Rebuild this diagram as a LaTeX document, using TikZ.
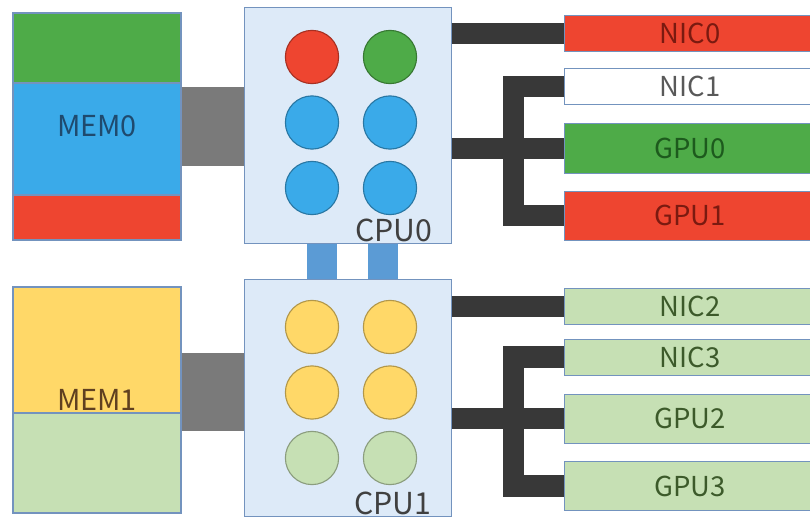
\documentclass[tikz,border=0pt]{standalone}
\usepackage{fontspec}
\setmainfont{Noto Sans CJK JP}
\usepackage{xcolor}
\usepackage{tikz}
\usetikzlibrary{positioning,calc}

\definecolor{cpured}{HTML}{EE4530}
\definecolor{cpugreen}{HTML}{4EAB48}
\definecolor{cpublue}{HTML}{3AAAE9}
\definecolor{cpuyellow}{HTML}{FFD868}
\definecolor{palegreen}{HTML}{C6E0B4}
\definecolor{cpufill}{HTML}{DDEAF8}
\definecolor{edge}{HTML}{7393BE}
\definecolor{ddrgray}{HTML}{7A7A7A}
\definecolor{busdark}{HTML}{383838}
\definecolor{upiblue}{HTML}{5B9BD5}
\definecolor{redtxt}{HTML}{7A1A10}
\definecolor{greentxt}{HTML}{1D5A1D}
\definecolor{leaftxt}{HTML}{3C5A2A}
\definecolor{memtxt}{HTML}{1F4A6E}

\begin{document}
\begin{tikzpicture}[x=0.025cm,y=-0.025cm,
  cpu/.style={draw=edge,line width=0.7pt,fill=cpufill,minimum width=5.15cm,minimum height=5.9cm,inner sep=0pt},
  core/.style={circle,draw=#1!70!black,line width=0.8pt,fill=#1,minimum size=1.33cm,inner sep=0pt},
  cpulabel/.style={text=black!75,inner sep=0pt,font=\fontsize{21.5}{22}\selectfont},
  mem/.style={draw=edge,line width=0.8pt,minimum width=4.2cm,inner sep=0pt,font=\fontsize{20.5}{21}\selectfont},
  dev/.style 2 args={draw=edge,line width=0.7pt,fill=#1,text=#2,minimum width=6.25cm,inner sep=0pt,
    font=\fontsize{19.5}{20}\selectfont},
  nic/.style={minimum height=0.9cm},
  gpu/.style={minimum height=1.225cm},
  ddr/.style={draw=ddrgray,line width=1.95cm},
  upi/.style={draw=upiblue,line width=0.75cm},
  pcie/.style={draw=busdark,line width=0.525cm}]
  \useasboundingbox (0,0) rectangle (810,518);

  % memory banks
  \filldraw[draw=edge,line width=0.8pt,fill=cpugreen] (13,13) rectangle (181,83);
  \filldraw[draw=edge,line width=0.8pt,fill=cpublue] (13,83) rectangle (181,195);
  \filldraw[draw=edge,line width=0.8pt,fill=cpured] (13,195) rectangle (181,240);
  \filldraw[draw=edge,line width=0.8pt,fill=cpuyellow] (13,287) rectangle (181,413);
  \filldraw[draw=edge,line width=0.8pt,fill=palegreen] (13,413) rectangle (181,513);
  \node[mem,minimum height=5.675cm,text=memtxt] (mem0) at (97,126.5) {MEM0};
  \node[mem,minimum height=5.65cm,text=brown!50!black] (mem1) at (97,400) {MEM1};

  % sockets
  \node[cpu] (cpu0) at (348,125.5) {};
  \node[cpu] (cpu1) at (348,398) {};
  \foreach \c [count=\k from 0] in {cpured,cpugreen,cpublue,cpublue,cpublue,cpublue}
    \node[core=\c] (core0\k) at ({312+78*mod(\k,2)},{57+65.5*int(\k/2)}) {};
  \foreach \c [count=\k from 0] in {cpuyellow,cpuyellow,cpuyellow,cpuyellow,palegreen,palegreen}
    \node[core=\c] (core1\k) at ({312+78*mod(\k,2)},{327+65.5*int(\k/2)}) {};
  \node[cpulabel,anchor=base] (cpu0lbl) at (394,242) {CPU0};
  \node[cpulabel,anchor=base] (cpu1lbl) at (393,514) {CPU1};

  % devices
  \node[dev={cpured}{redtxt},nic] (nic0) at (690,33.5) {NIC0};
  \node[dev={white}{black!65},nic] (nic1) at (690,86.5) {NIC1};
  \node[dev={cpugreen}{greentxt},gpu] (gpu0) at (690,148.5) {GPU0};
  \node[dev={cpured}{redtxt},gpu] (gpu1) at (690,215.5) {GPU1};
  \node[dev={palegreen}{leaftxt},nic] (nic2) at (690,306.5) {NIC2};
  \node[dev={palegreen}{leaftxt},nic] (nic3) at (690,357) {NIC3};
  \node[dev={palegreen}{leaftxt},gpu] (gpu2) at (690,418.5) {GPU2};
  \node[dev={palegreen}{leaftxt},gpu] (gpu3) at (690,486) {GPU3};

  % links
  \draw[ddr] (mem0.east) -- (mem0.east -| cpu0.west);
  \draw[ddr] ([yshift=0.2cm]mem1.east) -- ([yshift=0.2cm]mem1.east -| cpu1.west);
  \foreach \dx in {-0.65cm,0.8625cm}
    \draw[upi] ([xshift=\dx]cpu0.south) -- ([xshift=\dx]cpu1.north);
  \foreach \s/\n/\g in {cpu0/nic0/gpu0,cpu1/nic2/gpu2}
    \draw[pcie] (\s.east |- \n.west) -- (\n.west)
      (\s.east |- \g.west) -- (\g.west);
  \draw[pcie] (nic1.west) -- ++(-51,0) |- (gpu1.west);
  \draw[pcie] (nic3.west) -- ++(-51,0) |- (gpu3.west);
\end{tikzpicture}
\end{document}
